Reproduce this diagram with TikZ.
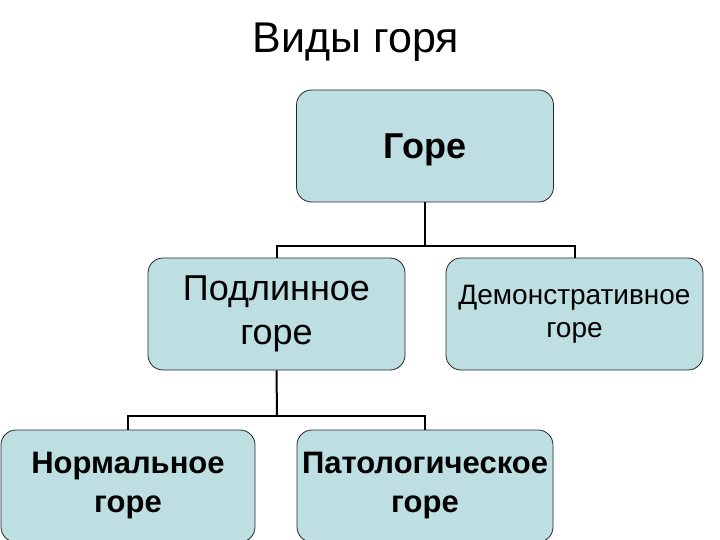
\documentclass[tikz,border=0pt]{standalone}
\usepackage{fontspec}
\setmainfont{Liberation Sans}
\definecolor{boxfill}{HTML}{BEDFE2}
\begin{document}
\begin{tikzpicture}[x=1pt,y=-1pt,
  box/.style={draw=black!85, line width=0.8pt, fill=boxfill, rounded corners=15pt,
    minimum width=257pt, minimum height=112pt, align=center, inner sep=0pt},
  conn/.style={line width=2pt, draw=black}]
\useasboundingbox (0,0) rectangle (720,540);
\clip (0,0) rectangle (720,540);
\node[anchor=base, font=\fontsize{43}{50}\selectfont] (title) at (356,53) {Виды горя};
\node[box, text height=26pt, text depth=0pt, font=\fontsize{36}{42}\selectfont\bfseries] (gore) at (425,146) {Горе};
\node[box, font=\fontsize{36}{44}\selectfont] (podl) at (276.5,314) {Подлинное\\горе};
\node[box, font=\fontsize{28}{33}\selectfont] (demo) at (574.5,314) {Демонстративное\\горе};
\node[box, minimum width=254pt, font=\fontsize{31}{39}\selectfont\bfseries] (norm) at (128,486) {Нормальное\\горе};
\node[box, minimum width=256pt, font=\fontsize{31}{39}\selectfont\bfseries] (pato) at (425,486) {Патологическое\\горе};
\coordinate (j1) at (425,246);
\coordinate (j2) at (277,416);
\draw[conn] (gore.south) -- (j1);
\draw[conn] (podl.north) |- (j1) -| (demo.north);
\draw[conn] (podl.south) -- (j2);
\draw[conn] (norm.north) |- (j2) -| (pato.north);
\end{tikzpicture}
\end{document}
